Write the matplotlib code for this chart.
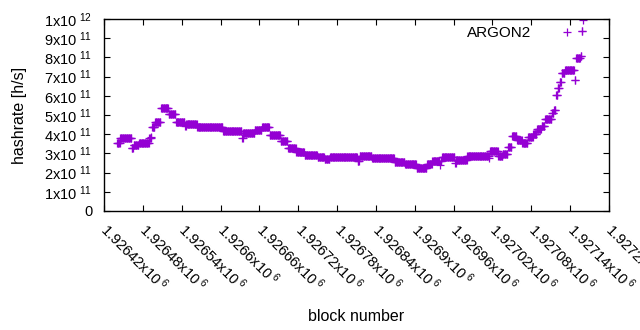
#!/usr/bin/env python3
"""Hashrate per block (ARGON2), gnuplot-style scatter of '+' points."""

import matplotlib
matplotlib.use("Agg")
import matplotlib.pyplot as plt
import numpy as np
from matplotlib.ticker import FuncFormatter, MultipleLocator

# hashrate read off the picture as runs of equal value:
# each run starts at run_start and lasts until the next run begins
run_start = [
  1926440, 1926445, 1926463, 1926466, 1926474, 1926490, 1926493, 1926494,
  1926499, 1926508, 1926520, 1926531, 1926545, 1926547, 1926564, 1926604,
  1926633, 1926635, 1926653, 1926664, 1926676, 1926693, 1926704, 1926717,
  1926730, 1926750, 1926761, 1926769, 1926812, 1926815, 1926834, 1926869,
  1926885, 1926903, 1926919, 1926927, 1926939, 1926940, 1926942, 1926962,
  1926964, 1926981, 1927015, 1927016, 1927029, 1927036, 1927044, 1927050,
  1927058, 1927066, 1927075, 1927083, 1927089, 1927096, 1927101, 1927112,
  1927115, 1927118, 1927121, 1927124, 1927127, 1927132, 1927147, 1927149,
  1927156, 1927158, 1927160,
]
run_level = [  # x1e11 h/s
  3.54, 3.80, 3.30, 3.42, 3.55, 3.78, 3.85, 4.40,
  4.65, 5.35, 5.05, 4.65, 4.45, 4.55, 4.35, 4.15,
  3.80, 4.05, 4.20, 4.35, 3.95, 3.65, 3.30, 3.05,
  2.92, 2.80, 2.70, 2.80, 2.60, 2.85, 2.75, 2.55,
  2.47, 2.25, 2.45, 2.60, 2.40, 2.60, 2.80, 2.50,
  2.65, 2.85, 2.75, 3.10, 2.85, 2.95, 3.35, 3.90,
  3.70, 3.55, 3.85, 4.00, 4.25, 4.45, 4.80, 5.10,
  5.25, 6.05, 6.40, 6.70, 7.20, 7.35, 6.80, 7.95,
  8.05, 9.40, 9.95,
]
last_block = 1927160

x_min, x_max, x_step = 1926420, 1927200, 60
y_max = 1e12


def expand_runs():
  starts = np.array(run_start)
  ends = np.append(starts[1:], last_block + 1)
  blocks = np.concatenate([np.arange(s, e) for s, e in zip(starts, ends)])
  rates = np.concatenate(
    [np.full(e - s, lv) for s, e, lv in zip(starts, ends, run_level)]
  ) * 1e11
  return blocks, rates


def y_label(v, _pos):
  if v < 1e9:
    return "0" if abs(v) < 1e9 else ""
  exp = int(np.floor(np.log10(v) + 1e-9))
  mant = int(round(v / 10 ** exp))
  return r"$\mathregular{%dx10^{\ %d}}$" % (mant, exp)


def x_label(v, _pos):
  mant = f"{v / 1e6:.5f}".rstrip("0").rstrip(".")
  return r"$\mathregular{%sx10^{\ 6}}$" % mant


def main() -> None:
  plt.rcParams["font.family"] = ["Liberation Sans", "DejaVu Sans"]
  plt.rcParams["mathtext.fontset"] = "custom"
  plt.rcParams["mathtext.rm"] = "Liberation Sans"

  blocks, rates = expand_runs()

  fig = plt.figure(figsize=(6.4, 3.3), dpi=100)
  ax = fig.add_axes([104 / 640, 1 - 211 / 330, 505 / 640, 192 / 330])

  ax.plot(blocks, rates, linestyle="none", marker="+", markersize=5.5,
          markeredgewidth=0.9, color="#9400D3", label="ARGON2")

  ax.set_xlim(x_min, x_max)
  ax.set_ylim(0, y_max)
  ax.xaxis.set_major_locator(MultipleLocator(x_step))
  ax.yaxis.set_major_locator(MultipleLocator(1e11))
  ax.xaxis.set_major_formatter(FuncFormatter(x_label))
  ax.yaxis.set_major_formatter(FuncFormatter(y_label))

  ax.tick_params(direction="in", length=4, width=0.8, top=True, right=True,
                 labelsize=10.5, colors="black")
  ax.tick_params(axis="y", pad=8.5)
  ax.tick_params(axis="x", pad=11)
  for lab in ax.get_xticklabels():
    lab.set_rotation(-45)
    lab.set_ha("left")
    lab.set_va("center")
    lab.set_rotation_mode("anchor")
  for spine in ax.spines.values():
    spine.set_linewidth(1.0)

  ax.set_ylabel("hashrate [h/s]", fontsize=11.5)
  ax.yaxis.set_label_coords(-0.153, 0.5)
  ax.set_xlabel("block number", fontsize=11.5)
  ax.xaxis.set_label_coords(0.5, -0.51)

  ax.legend(loc="upper right", bbox_to_anchor=(0.944, 0.995), frameon=False,
            markerfirst=False, handlelength=1.0, handletextpad=1.86,
            numpoints=1, fontsize=11, borderaxespad=0)

  fig.savefig("out.png", dpi=100)
  plt.close(fig)


if __name__ == "__main__":
  main()
